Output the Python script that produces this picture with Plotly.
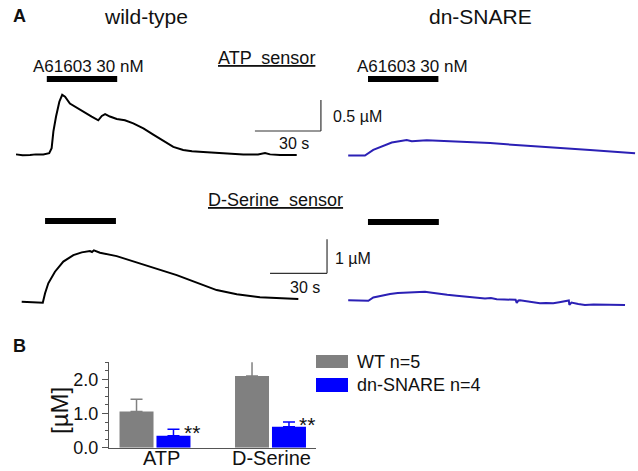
import plotly.graph_objects as go

# ---------------- data ----------------
# Panel A traces (time in s, concentration in uM)
wt_atp_t = [0, 3, 6.4, 9, 12.4, 15.1, 16.2, 17.0, 18.2, 19.7, 21.0, 22.3, 24.5, 27.6, 30.6, 34.4, 37.4, 39.0,
            40.5, 42.7, 45.8, 49.5, 53.3, 57.9, 62.4, 67.0, 71.5, 76.0, 80, 85.1, 94.2, 103.3, 110, 113.2,
            115.5, 120, 127.6]
wt_atp_v = [0.01, -0.005, 0.0, 0.01, 0.01, 0.03, 0.11, 0.38, 0.62, 0.86, 0.97, 0.94, 0.83, 0.76, 0.70, 0.62,
            0.56, 0.63, 0.66, 0.62, 0.58, 0.56, 0.51, 0.43, 0.33, 0.23, 0.13, 0.08, 0.06, 0.05, 0.03, 0.01,
            0.01, 0.03, 0.01, 0.0, 0.0]

dn_atp_t = [5.0, 12.6, 16.4, 21.0, 24.8, 31.6, 33.9, 40.7, 54.3, 69.5, 84.6, 99.8, 114.9, 135.4]
dn_atp_v = [0.0, 0.0, 0.09, 0.16, 0.21, 0.25, 0.23, 0.245, 0.22, 0.20, 0.16, 0.13, 0.09, 0.035]

wt_ds_t = [0, 11.1, 12.3, 14.0, 17.5, 21.9, 27.2, 31.6, 35.9, 37, 38, 41.2, 50.0, 60.5, 71.1, 81.6, 92.1,
           102.6, 113.2, 125.4, 145.6]
wt_ds_v = [0.01, -0.02, 0.26, 0.55, 0.89, 1.19, 1.38, 1.46, 1.50, 1.47, 1.52, 1.45, 1.35, 1.17, 0.99, 0.79,
           0.57, 0.35, 0.23, 0.14, 0.09]

dn_ds_t = [1.9, 6, 10, 12.5, 15.1, 19, 23.9, 28, 32.7, 37, 42.3, 46, 50.2, 54, 59.0, 63, 67.7, 71, 73.9, 77,
           80.1, 84, 88.8, 90.0, 90.6, 91.5, 92.3, 96, 99.3, 102.8, 106, 109.8, 113, 116.9, 118.0, 118.3,
           119.4, 123, 126.5, 131, 137.0, 142, 147.6]
dn_ds_v = [0.01, 0.0, 0.01, -0.01, 0.09, 0.14, 0.19, 0.22, 0.24, 0.25, 0.26, 0.23, 0.19, 0.17, 0.14, 0.12,
           0.09, 0.08, 0.06, 0.07, 0.04, 0.03, 0.01, 0.02, -0.07, 0.0, 0.01, -0.02, -0.04, -0.08, -0.07,
           -0.08, -0.05, -0.01, 0.0, -0.13, -0.06, -0.1, -0.13, -0.12, -0.13, -0.12, -0.13]

# drug application windows (s)
atp_stim = [14, 46]
ds_stim = [12.3, 49.6]

# scale bars: [t_start, duration s, v_start, height uM]
atp_scale = [108.6, 30, 0.387, 0.5]
ds_scale = [130.7, 30, 0.844, 1.0]

# Panel B
categories = ["ATP", "D-Serine"]
wt_mean = [1.06, 2.10]
wt_sem = [0.36, 0.52]
dn_mean = [0.35, 0.61]
dn_sem = [0.19, 0.14]
y_ticks = [0, 1, 2]
y_ticklabels = ["0.0", "1.0", "2.0"]

# ---------------- figure ----------------
W, H = 638, 471
FONT = "Liberation Sans, Arial, sans-serif"
BLUE_TRACE = "#2b20b5"
GRAY = "#808080"
BLUE = "#0000ff"


def px(x):
    return x / W


def py(y):
    return 1 - y / H


fig = go.Figure()


def trace_axes(n, L, R, T, B, ox, oy, sx, sy):
    xr = [(L - ox) / sx, (R - ox) / sx]
    yr = [(oy - B) / sy, (oy - T) / sy]
    fig.update_layout(**{
        f"xaxis{n}": dict(domain=[px(L), px(R)], range=xr, visible=False, anchor=f"y{n}",
                          fixedrange=True, automargin=False),
        f"yaxis{n}": dict(domain=[py(B), py(T)], range=yr, visible=False, anchor=f"x{n}",
                          fixedrange=True, automargin=False),
    })


trace_axes(2, 10, 335, 88, 165, 16, 155, 2.2, 62)
trace_axes(3, 340, 638, 88, 165, 337.2, 155.5, 2.2, 62)
trace_axes(4, 10, 338, 232, 312, 21.7, 302, 1.9, 34)
trace_axes(5, 340, 638, 232, 315, 344.6, 300.5, 1.9, 34)

for n, t, v, c in [(2, wt_atp_t, wt_atp_v, "black"), (3, dn_atp_t, dn_atp_v, BLUE_TRACE),
                   (4, wt_ds_t, wt_ds_v, "black"), (5, dn_ds_t, dn_ds_v, BLUE_TRACE)]:
    fig.add_trace(go.Scatter(x=t, y=v, mode="lines", line=dict(color=c, width=2),
                             xaxis=f"x{n}", yaxis=f"y{n}", showlegend=False, hoverinfo="skip"))

shapes = []
# stimulus bars
for n, stim, top, bot in [(2, atp_stim, 76, 82), (3, atp_stim, 76, 82), (4, ds_stim, 218, 224), (5, ds_stim, 219, 225)]:
    shapes.append(dict(type="rect", xref=f"x{n}", yref="paper", x0=stim[0], x1=stim[1],
                       y0=py(bot), y1=py(top), fillcolor="black", line=dict(width=0)))
# scale bars
for n, sc in [(2, atp_scale), (4, ds_scale)]:
    t0, dt, v0, dv = sc
    shapes.append(dict(type="line", xref=f"x{n}", yref=f"y{n}", x0=t0, x1=t0 + dt, y0=v0, y1=v0,
                       line=dict(color="#333", width=1.2)))
    shapes.append(dict(type="line", xref=f"x{n}", yref=f"y{n}", x0=t0 + dt, x1=t0 + dt, y0=v0, y1=v0 + dv,
                       line=dict(color="#333", width=1.2)))

# Panel B bars
fig.add_trace(go.Bar(x=categories, y=wt_mean, name="WT n=5", marker=dict(color=GRAY, line=dict(width=0)),
                     error_y=dict(type="data", array=wt_sem, arrayminus=[0, 0], symmetric=False,
                                  color=GRAY, thickness=1.5, width=6),
                     showlegend=False, hoverinfo="skip"))
fig.add_trace(go.Bar(x=categories, y=dn_mean, name="dn-SNARE n=4", marker=dict(color=BLUE, line=dict(width=0)),
                     error_y=dict(type="data", array=dn_sem, arrayminus=[0, 0], symmetric=False,
                                  color=BLUE, thickness=1.5, width=6),
                     showlegend=False, hoverinfo="skip"))

cat_px = 115.5
x0_px = 155
fig.update_layout(
    xaxis=dict(domain=[px(109), px(316)], range=[(109 - x0_px) / cat_px, (316 - x0_px) / cat_px],
               showline=True, linecolor="#555", linewidth=1.2, ticks="", showgrid=False, zeroline=False,
               showticklabels=False, anchor="y", fixedrange=True, automargin=False),
    yaxis=dict(domain=[py(447.7), py(362.2)], range=[0, 2.5], showline=True, linecolor="#555", linewidth=1.2,
               ticks="outside", ticklen=6, tickcolor="#555", tickwidth=1.2, tickvals=y_ticks,
               ticktext=y_ticklabels, showgrid=False, zeroline=False,
               tickfont=dict(size=18, color="#111", family=FONT), anchor="x", fixedrange=True,
               automargin=False,
               minor=dict(dtick=0.25, ticks="outside", ticklen=3, tickcolor="#555", tickwidth=1)),
    barmode="group", bargap=0.36, bargroupgap=0.08,
)

# legend (drawn manually)
for (top, bot, col) in [(355, 368, GRAY), (378, 392, BLUE)]:
    shapes.append(dict(type="rect", xref="paper", yref="paper", x0=px(316), x1=px(348),
                       y0=py(bot), y1=py(top), fillcolor=col, line=dict(width=0)))

annotations = []


def txt(s, x, y, size, xanchor="center", bold=False, angle=0, color="#111"):
    annotations.append(dict(text=f"<b>{s}</b>" if bold else s, x=px(x), y=py(y), xref="paper", yref="paper",
                            xanchor=xanchor, yanchor="middle", showarrow=False, textangle=angle,
                            font=dict(size=size, color=color, family=FONT)))


# category labels under the bar groups
for cat, shift in zip(categories, [6, 1]):
    annotations.append(dict(text=cat, x=cat, xref="x", y=py(458), yref="paper", xshift=shift,
                            xanchor="center", yanchor="middle", showarrow=False,
                            font=dict(size=20, color="#111", family=FONT)))

txt("A", 19, 16, 18, bold=True)
txt("B", 19, 346, 18, bold=True)
txt("wild-type", 146, 17, 21)
txt("dn-SNARE", 480, 17, 21)
txt("<u>ATP  sensor</u>", 266, 58, 18)
txt("<u>D-Serine  sensor</u>", 275, 200, 18)
txt("A61603 30 nM", 88, 67, 17)
txt("A61603 30 nM", 412, 67, 17)
txt("0.5 µM", 331, 117, 16, xanchor="left")
txt("30 s", 294, 144, 16)
txt("1 µM", 333, 258, 16, xanchor="left")
txt("30 s", 305, 287, 16)
txt("[µM]", 59, 411, 24, angle=-90)
txt("**", 192, 432, 21)
txt("**", 307, 424, 21)
txt("WT n=5", 355, 362, 18, xanchor="left")
txt("dn-SNARE n=4", 355, 385, 18, xanchor="left")

fig.update_layout(
    width=W, height=H, margin=dict(l=0, r=0, t=0, b=0, autoexpand=False),
    paper_bgcolor="white", plot_bgcolor="white",
    font=dict(family=FONT, color="#111"),
    shapes=shapes, annotations=annotations, showlegend=False,
)

fig.write_html("out.html", config={"displayModeBar": False},
               post_script="document.body.style.margin='0px';document.body.style.padding='0px';")
